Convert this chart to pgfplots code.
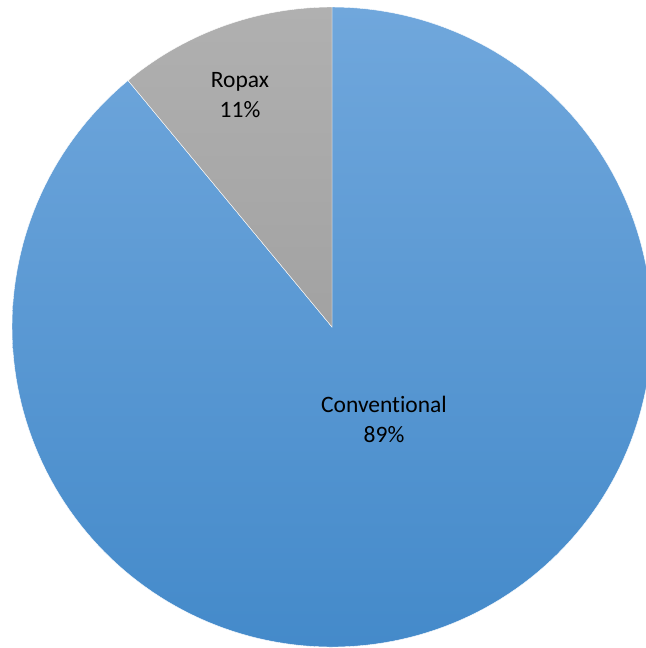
\documentclass[border=0pt]{standalone}
\usepackage{pgfplots}
\pgfplotsset{compat=1.18}
\usepackage{pgfplotstable}
\usepackage{fontspec}
\setmainfont[Ligatures=NoCommon]{Carlito}

% shares in percent
\pgfplotstableread{
label share
Ropax 11
Conventional 89
}\sharetable

\definecolor{blueTop}{HTML}{70A7DC}
\definecolor{blueBot}{HTML}{448ACA}
\definecolor{grayTop}{HTML}{B0B0B0}
\definecolor{grayBot}{HTML}{A2A2A2}

\begin{document}
\begin{tikzpicture}
\pgfplotstablegetelem{0}{share}\of\sharetable
\let\ropax\pgfplotsretval
\pgfmathsetmacro{\cut}{90+3.6*\ropax}
\pgfmathsetmacro{\stop}{450}
\begin{axis}[
    width=646bp, height=648bp,
    scale only axis,
    hide axis,
    xmin=-1.0375, xmax=0.98125,
    ymin=-1.003, ymax=1.0219,
    clip=true,
]
    % Conventional slice
    \addplot[draw=white, line width=0.4bp, top color=blueTop, bottom color=blueBot,
        domain=\cut:\stop, samples=200] ({cos(x)},{sin(x)}) -- (0,0) -- cycle;
    % Ropax slice
    \addplot[draw=white, line width=0.4bp, top color=grayTop, bottom color=grayBot,
        domain=90:\cut, samples=40] ({cos(x)},{sin(x)}) -- (0,0) -- cycle;

    \node[align=center, font=\fontsize{23.5bp}{30bp}\selectfont]
        at (axis cs:-0.2875,0.725) {Ropax\\11\%};
    \node[align=center, font=\fontsize{23.5bp}{30bp}\selectfont]
        at (axis cs:0.1625,-0.29) {Conventional\\89\%};
\end{axis}
\pgfresetboundingbox
\useasboundingbox (current axis.south west) rectangle (current axis.north east);
\end{tikzpicture}
\end{document}
